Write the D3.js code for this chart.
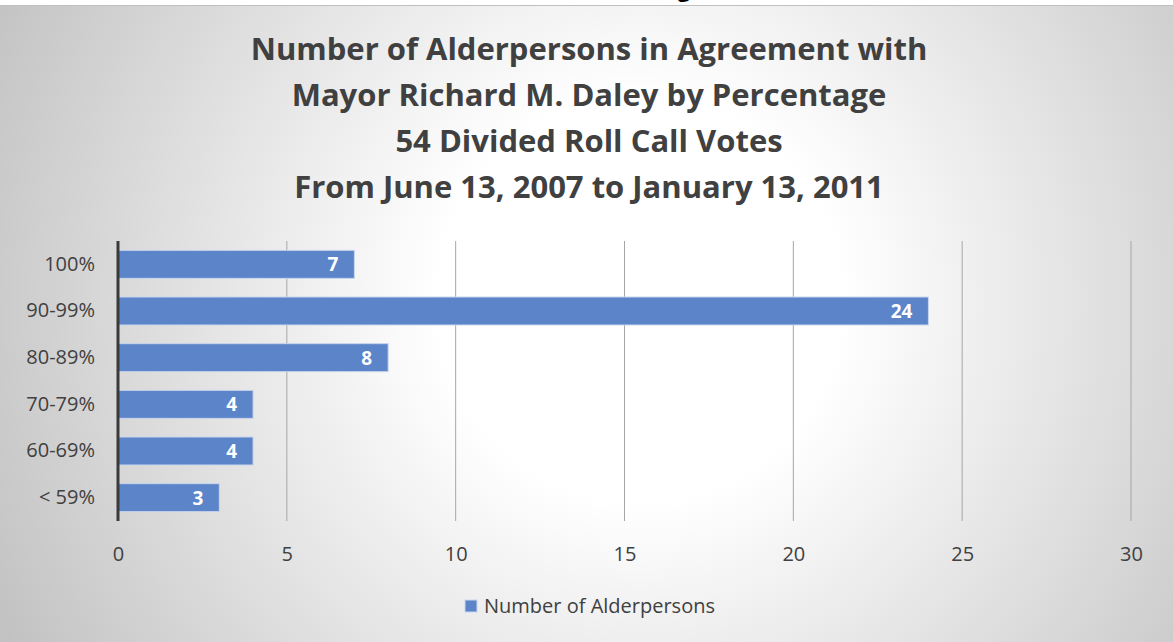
<!DOCTYPE html>
<html>
<head>
<meta charset="utf-8">
<script src="https://cdn.jsdelivr.net/npm/d3@7"></script>
<style>
  body { margin: 0; background: #fff; }
  text { font-family: "Open Sans", "Noto Sans", sans-serif; }
</style>
</head>
<body>
<div id="chart"></div>
<script>
// Define data
let categories = ["100%", "90-99%", "80-89%", "70-79%", "60-69%", "< 59%"];
let values = [7, 24, 8, 4, 4, 3];
let xTicks = [0, 5, 10, 15, 20, 25, 30];
let titleLines = [
  "Number of Alderpersons in Agreement with",
  "Mayor Richard M. Daley by Percentage",
  "54 Divided Roll Call Votes",
  "From June 13, 2007 to January 13, 2011"
];
let seriesName = "Number of Alderpersons";

let svgWidth = 1173;
let svgHeight = 642;

let margin = { top: 241, right: 42, bottom: 121, left: 118 };
let width = svgWidth - margin.left - margin.right;
let height = svgHeight - margin.top - margin.bottom;

let svg = d3.select("#chart")
  .append("svg")
  .attr("width", svgWidth)
  .attr("height", svgHeight);

// background gradient
let defs = svg.append("defs");
let grad = defs.append("radialGradient")
  .attr("id", "bg")
  .attr("gradientUnits", "userSpaceOnUse")
  .attr("cx", 640).attr("cy", 300).attr("r", 720);
grad.append("stop").attr("offset", "0%").attr("stop-color", "#ffffff");
grad.append("stop").attr("offset", "28%").attr("stop-color", "#ffffff");
grad.append("stop").attr("offset", "100%").attr("stop-color", "#c2c2c2");

svg.append("rect").attr("width", svgWidth).attr("height", svgHeight).attr("fill", "#fff");
svg.append("rect")
  .attr("x", 0).attr("y", 5)
  .attr("width", svgWidth).attr("height", svgHeight - 5)
  .attr("fill", "url(#bg)");
svg.append("line")
  .attr("x1", 0).attr("x2", svgWidth)
  .attr("y1", 5.5).attr("y2", 5.5)
  .attr("stroke", "#c0c0c0").attr("stroke-width", 1);

// clipped heading fragment from above
svg.append("text")
  .attr("x", 684).attr("y", -3)
  .attr("text-anchor", "middle")
  .style("font-size", "22px").style("font-weight", "bold")
  .attr("fill", "#000")
  .text("g");

// title
svg.append("g").selectAll("text")
  .data(titleLines)
  .enter()
  .append("text")
  .attr("x", 589)
  .attr("y", (d, i) => 60 + i * 46)
  .attr("text-anchor", "middle")
  .attr("fill", "#404040")
  .style("font-size", "31px")
  .style("font-weight", "bold")
  .text(d => d);

let chartGroup = svg.append("g")
  .attr("transform", `translate(${margin.left}, ${margin.top})`);

let xScale = d3.scaleLinear().domain([0, 30]).range([0, width]);
let yScale = d3.scaleBand().domain(categories).range([0, height]).paddingInner(0.4).paddingOuter(0.2);

// gridlines
chartGroup.append("g").selectAll("line")
  .data(xTicks.slice(1))
  .enter()
  .append("line")
  .attr("x1", d => xScale(d)).attr("x2", d => xScale(d))
  .attr("y1", 0).attr("y2", height)
  .attr("stroke", "#a6a6a6").attr("stroke-width", 1);

// x axis labels
let bottomAxis = d3.axisBottom(xScale).tickValues(xTicks).tickSize(0).tickPadding(26);
let xAxis = chartGroup.append("g")
  .attr("transform", `translate(0, ${height})`)
  .call(bottomAxis);
xAxis.select(".domain").remove();
xAxis.attr("font-size", null).attr("font-family", null);
xAxis.selectAll("text")
  .attr("fill", "#404040")
  .style("font-size", "20px");

// y axis labels
let leftAxis = d3.axisLeft(yScale).tickSize(0).tickPadding(23);
let yAxis = chartGroup.append("g").call(leftAxis);
yAxis.select(".domain").remove();
yAxis.attr("font-size", null).attr("font-family", null);
yAxis.selectAll("text")
  .attr("fill", "#404040")
  .style("font-size", "20px");

// bars
chartGroup.append("g").selectAll("rect")
  .data(values)
  .enter()
  .append("rect")
  .attr("x", 0)
  .attr("y", (d, i) => yScale(categories[i]))
  .attr("width", d => xScale(d))
  .attr("height", yScale.bandwidth())
  .attr("fill", "#5b84c9")
  .attr("stroke", "#c9d6ee")
  .attr("stroke-width", 1);

// value labels
chartGroup.append("g").selectAll("text")
  .data(values)
  .enter()
  .append("text")
  .attr("x", d => xScale(d) - 16)
  .attr("y", (d, i) => yScale(categories[i]) + yScale.bandwidth() / 2)
  .attr("dy", "0.36em")
  .attr("text-anchor", "end")
  .attr("fill", "#ffffff")
  .style("font-size", "19px")
  .style("font-weight", "bold")
  .text(d => d);

// vertical axis line
chartGroup.append("line")
  .attr("x1", 0).attr("x2", 0)
  .attr("y1", 0).attr("y2", height)
  .attr("stroke", "#3a3a3a").attr("stroke-width", 3);

// legend
let legend = svg.append("g").attr("transform", "translate(465, 600)");
legend.append("rect")
  .attr("width", 12).attr("height", 12)
  .attr("fill", "#5b84c9")
  .attr("stroke", "#c9d6ee");
legend.append("text")
  .attr("x", 19).attr("y", 13)
  .attr("fill", "#404040")
  .style("font-size", "20px")
  .text(seriesName);
</script>
</body>
</html>
